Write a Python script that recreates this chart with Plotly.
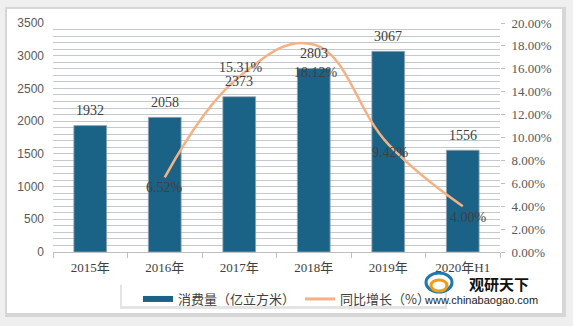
import plotly.graph_objects as go

# ---------------- data ----------------
categories = ["2015年", "2016年", "2017年", "2018年", "2019年", "2020年H1"]
consumption = [1932, 2058, 2373, 2803, 3067, 1556]          # 亿立方米
growth_years = ["2016年", "2017年", "2018年", "2019年", "2020年H1"]
growth = [6.52, 15.31, 18.12, 9.42, 4.00]                    # %
left_ticks = [0, 500, 1000, 1500, 2000, 2500, 3000, 3500]
right_ticks = [0, 2, 4, 6, 8, 10, 12, 14, 16, 18, 20]
right_tick_labels = [f"{v:.2f}%" for v in right_ticks]
bar_name = "消费量（亿立方米）"
line_name = "同比增长（%）"

# ---------------- style ----------------
BAR_COLOR = "#1b6386"
LINE_COLOR = "#f5b183"
TXT = "#404040"
AX = "#595959"
GRID = "#c3c9cf"
W, H = 573, 326
L, R, T, B = 53, 73, 23, 74
pw, ph = W - L - R, H - T - B

def px(x):
    return (x - L) / pw

def py(y):
    return (H - B - y) / ph

SERIF = "Liberation Serif, Noto Sans CJK SC, serif"
SANS = "Liberation Sans, Arial, sans-serif"
CJK = "Noto Sans CJK SC, sans-serif"

fig = go.Figure()

fig.add_trace(go.Bar(
    x=categories, y=consumption, name=bar_name, showlegend=False,
    marker=dict(color=BAR_COLOR, line=dict(color="rgba(150,165,178,0.8)", width=1)),
    yaxis="y",
))

fig.add_trace(go.Scatter(
    x=growth_years, y=growth, name=line_name, showlegend=False,
    mode="lines", line=dict(color=LINE_COLOR, width=2.5, shape="spline", smoothing=1.2),
    yaxis="y2",
))

# legend-only entries (line-style symbols like the reference)
fig.add_trace(go.Scatter(x=[None], y=[None], mode="lines", name=bar_name,
                         line=dict(color=BAR_COLOR, width=6)))
fig.add_trace(go.Scatter(x=[None], y=[None], mode="lines", name=line_name,
                         line=dict(color=LINE_COLOR, width=3)))

annotations = []
# bar value labels
for c, v in zip(categories, consumption):
    annotations.append(dict(x=c, y=v, xref="x", yref="y", text=str(v), showarrow=False,
                            yshift=15, font=dict(family=SERIF, size=14, color=TXT)))
# growth labels
g_shift = {"2016年": (0, -10), "2017年": (2, 9), "2018年": (2, -28),
           "2019年": (2, -8), "2020年H1": (6, -11)}
for c, v in zip(growth_years, growth):
    xs, ys = g_shift[c]
    annotations.append(dict(x=c, y=v, xref="x", yref="y2", text=f"{v:.2f}%", showarrow=False,
                            xshift=xs, yshift=ys, font=dict(family=SERIF, size=14, color=TXT)))
# watermark
annotations.append(dict(x=px(499), y=py(283), xref="paper", yref="paper", text="<b>观研天下</b>",
                        showarrow=False, xanchor="center", yanchor="middle",
                        font=dict(family=CJK, size=15, color="#111111")))
annotations.append(dict(x=px(481), y=py(300), xref="paper", yref="paper", text="www.chinabaogao.com",
                        showarrow=False, xanchor="center", yanchor="middle",
                        font=dict(family=SANS, size=11, color="#222222")))

shapes = [
    # panel shadow + white panel
    dict(type="rect", xref="paper", yref="paper", x0=px(5), x1=px(566), y0=py(7), y1=py(317),
         fillcolor="#d6d6d6", line=dict(width=0), layer="below"),
    dict(type="rect", xref="paper", yref="paper", x0=px(7), x1=px(562), y0=py(9), y1=py(313),
         fillcolor="white", line=dict(width=0), layer="below"),
    # legend box shadow + box
    dict(type="rect", xref="paper", yref="paper", x0=px(120), x1=px(447), y0=py(285), y1=py(309),
         fillcolor="#e4e4e4", line=dict(width=0), layer="below"),
    dict(type="rect", xref="paper", yref="paper", x0=px(122), x1=px(445), y0=py(284), y1=py(306),
         fillcolor="white", line=dict(width=0), layer="below"),
    # simple logo swirl
    dict(type="circle", xref="paper", yref="paper", x0=px(426), x1=px(452), y0=py(273), y1=py(292),
         line=dict(color="#1f78b4", width=3), fillcolor="rgba(0,0,0,0)"),
    dict(type="circle", xref="paper", yref="paper", x0=px(431), x1=px(447), y0=py(280), y1=py(291),
         line=dict(color="#f39c12", width=3), fillcolor="rgba(0,0,0,0)"),
]

fig.update_layout(
    width=W, height=H,
    margin=dict(l=L, r=R, t=T, b=B, pad=0),
    paper_bgcolor="#efefef",
    plot_bgcolor="#edf2f8",
    bargap=0.56,
    showlegend=True,
    legend=dict(orientation="h", x=px(138), xanchor="left", y=py(284), yanchor="top",
                bgcolor="rgba(0,0,0,0)", font=dict(family=CJK, size=13, color=TXT),
                itemwidth=30, tracegroupgap=0),
    xaxis=dict(type="category", categoryorder="array", categoryarray=categories,
               tickson="boundaries", ticks="outside", ticklen=5, tickcolor="#bfbfbf",
               showline=True, linecolor="#bfbfbf", linewidth=1, showgrid=False,
               tickfont=dict(family=SERIF, size=13, color=TXT), ticklabelstandoff=3),
    yaxis=dict(range=[0, 3500], tickvals=left_ticks, showline=False, ticks="",
               showgrid=True, gridcolor=GRID, gridwidth=1, zeroline=False,
               minor=dict(dtick=100, showgrid=True, gridcolor=GRID, gridwidth=1),
               tickfont=dict(family=SANS, size=12, color=AX), ticklabelstandoff=8),
    yaxis2=dict(range=[0, 20], overlaying="y", side="right", tickvals=right_ticks,
                ticktext=right_tick_labels, showgrid=False, zeroline=False, showline=False,
                ticks="outside", ticklen=4, tickcolor="#bfbfbf",
                tickfont=dict(family=SERIF, size=13, color=AX), ticklabelstandoff=4),
    annotations=annotations,
    shapes=shapes,
)

fig.write_html("out.html")
